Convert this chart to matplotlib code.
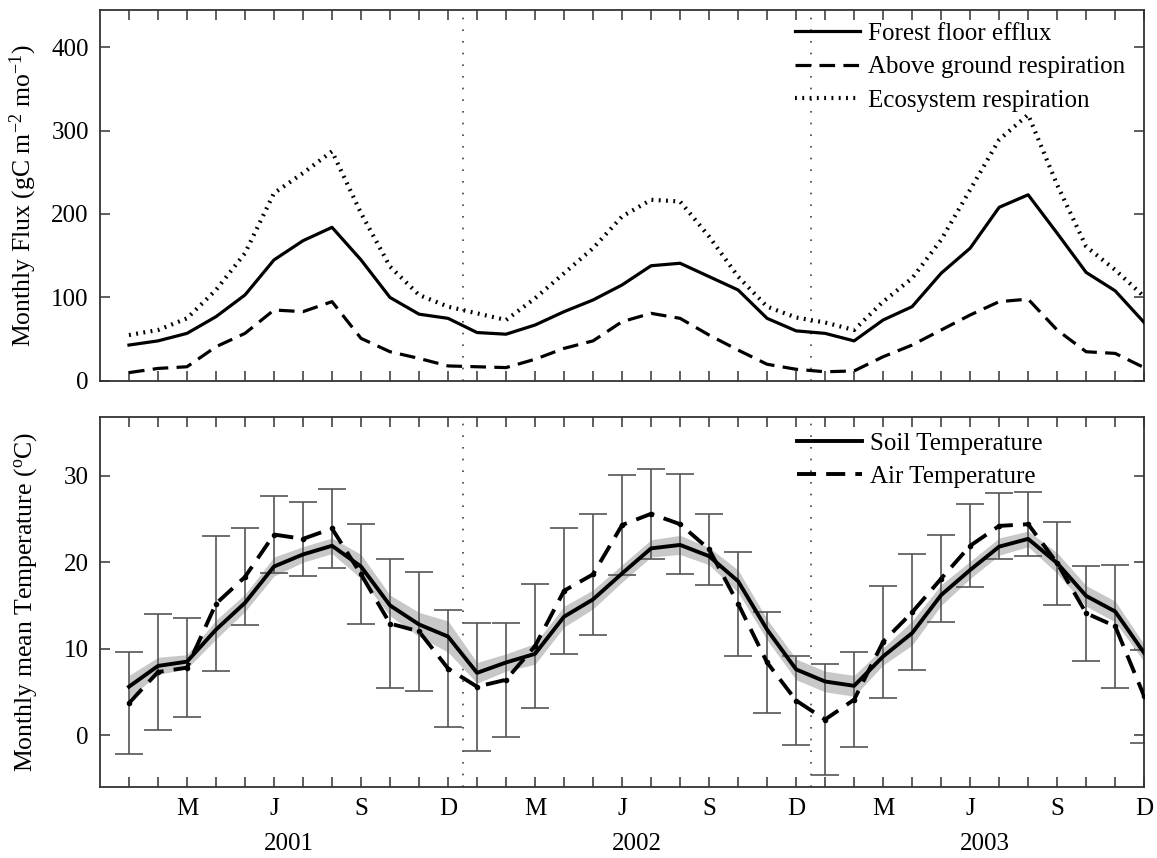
import numpy as np
import matplotlib
matplotlib.use("Agg")
import matplotlib.pyplot as plt
from matplotlib.transforms import blended_transform_factory

plt.rcParams['font.family'] = ['Liberation Serif', 'DejaVu Serif']
plt.rcParams['mathtext.fontset'] = 'custom'
plt.rcParams['mathtext.rm'] = 'Liberation Serif'
plt.rcParams['mathtext.it'] = 'Liberation Serif:italic'
plt.rcParams['axes.unicode_minus'] = False

# ---------------- data (Jan 2001 .. Dec 2003, monthly) ----------------
month_index = np.arange(36)

forest_floor = [43, 48, 57, 77, 103, 145, 168, 184, 145, 100, 80, 75,
                58, 56, 67, 83, 97, 115, 138, 141, 125, 109, 75, 60,
                57, 48, 73, 89, 129, 159, 208, 223, 177, 130, 108, 70]
above_ground = [10, 15, 17, 41, 57, 85, 83, 95, 51, 35, 27, 18,
                17, 16, 26, 39, 48, 71, 81, 75, 55, 37, 20, 14,
                11, 12, 29, 43, 61, 79, 95, 98, 61, 35, 33, 16]
ecosystem = [55, 61, 75, 109, 153, 225, 249, 275, 201, 137, 103, 89,
             81, 73, 99, 129, 159, 197, 217, 215, 173, 125, 89, 76,
             70, 61, 95, 123, 169, 229, 289, 319, 235, 161, 133, 101]

soil_temp = [5.6, 8.0, 8.5, 12.2, 15.3, 19.5, 20.9, 21.9, 19.5, 15.0, 12.8, 11.4,
             7.2, 8.4, 9.4, 13.7, 15.7, 18.7, 21.6, 22.0, 20.7, 17.8, 12.2, 7.6,
             6.2, 5.7, 9.1, 11.8, 16.2, 19.1, 21.8, 22.7, 19.9, 16.1, 14.3, 9.5]
soil_sd = [1.3, 1.0, 0.8, 1.1, 1.0, 1.1, 0.9, 0.9, 1.4, 1.2, 1.4, 1.8,
           1.2, 1.0, 1.2, 1.2, 1.1, 1.0, 1.0, 1.1, 1.0, 1.3, 1.2, 1.2,
           1.2, 1.2, 1.0, 1.4, 1.2, 1.0, 1.0, 0.9, 1.2, 1.2, 1.2, 1.0]
air_temp = [3.7, 7.3, 7.8, 15.2, 18.3, 23.2, 22.7, 23.9, 18.6, 12.9, 12.0, 7.7,
            5.6, 6.4, 10.3, 16.7, 18.6, 24.3, 25.6, 24.4, 21.5, 15.2, 8.4, 4.0,
            1.8, 4.1, 10.8, 14.2, 18.1, 21.9, 24.2, 24.4, 19.9, 14.1, 12.6, 4.5]
air_sd = [5.9, 6.7, 5.7, 7.8, 5.6, 4.5, 4.3, 4.6, 5.8, 7.5, 6.9, 6.8,
          7.4, 6.6, 7.2, 7.3, 7.0, 5.8, 5.2, 5.8, 4.1, 6.0, 5.8, 5.2,
          6.4, 5.5, 6.5, 6.7, 5.0, 4.8, 3.8, 3.7, 4.8, 5.5, 7.1, 5.4]

month_letters = ['', '', 'M', '', '', 'J', '', '', 'S', '', '', 'D']
year_labels = ['2001', '2002', '2003']
year_boundaries = [11.5, 23.5]

flux_labels = ['Forest floor efflux', 'Above ground respiration', 'Ecosystem respiration']
temp_labels = ['Soil Temperature', 'Air Temperature']

# ---------------- figure ----------------
fig = plt.figure(figsize=(11.57, 8.58), dpi=100)
ax1 = fig.add_axes([0.0864, 0.556, 0.9025, 0.432])
ax2 = fig.add_axes([0.0864, 0.0828, 0.9025, 0.4312])

spine_col = '#333333'
FS = 18

def style(ax):
    for s in ax.spines.values():
        s.set_color(spine_col)
        s.set_linewidth(1.3)
    ax.set_xlim(-1, 35)
    ax.set_xticks(month_index)
    ax.tick_params(axis='both', direction='in', length=7, width=1.1, color=spine_col,
                   top=True, right=True, labelsize=FS, pad=8)
    for xb in year_boundaries:
        ax.axvline(xb, color='#444444', lw=1.2, linestyle=(0, (1, 6)), zorder=1)

dash = (0, (4.9, 2.6))
dots = (0, (0.45, 1.3))

# ---- top panel ----
style(ax1)
ax1.plot(month_index, forest_floor, color='black', lw=2.3, label=flux_labels[0], zorder=3)
ax1.plot(month_index, above_ground, color='black', lw=2.3, linestyle=dash, label=flux_labels[1], zorder=3)
ax1.plot(month_index, ecosystem, color='black', lw=3.0, linestyle=dots, label=flux_labels[2], zorder=3)
ax1.set_ylim(0, 444)
ax1.set_yticks([0, 100, 200, 300, 400])
ax1.tick_params(axis='x', labelbottom=False)
ax1.set_ylabel('Monthly Flux (gC m$^{\\mathregular{-2}}$ mo$^{\\mathregular{-1}}$)', fontsize=18.5)
ax1.yaxis.set_label_coords(-0.058, 0.5)
leg1 = ax1.legend(loc='upper left', bbox_to_anchor=(0.666, 0.967), frameon=False, fontsize=FS,
                  handlelength=2.6, handletextpad=0.3, labelspacing=0.43, borderpad=0, borderaxespad=0)

# ---- bottom panel ----
style(ax2)
lo = np.array(soil_temp) - np.array(soil_sd)
hi = np.array(soil_temp) + np.array(soil_sd)
ax2.fill_between(month_index, lo, hi, color='#c8c8c8', lw=0, zorder=2)
ax2.errorbar(month_index, air_temp, yerr=air_sd, fmt='none', ecolor='#555555',
             elinewidth=1.2, capsize=10, capthick=1.2, zorder=2.5)
ax2.plot(month_index, soil_temp, color='black', lw=2.8, label=temp_labels[0], zorder=3)
ax2.plot(month_index, air_temp, color='black', lw=2.8, linestyle=dash, marker='o',
         markersize=3, label=temp_labels[1], zorder=3.5)
ax2.set_ylim(-6, 36.8)
ax2.set_yticks([0, 10, 20, 30])
ax2.set_xticklabels(month_letters * 3)
ax2.set_ylabel('Monthly mean Temperature ($^{\\mathregular{o}}$C)', fontsize=18.5)
ax2.yaxis.set_label_coords(-0.058, 0.5)
leg2 = ax2.legend(loc='upper left', bbox_to_anchor=(0.668, 0.959), frameon=False, fontsize=FS,
                  handlelength=2.6, handletextpad=0.3, labelspacing=0.43, borderpad=0, borderaxespad=0)
for h in leg2.legend_handles:
    h.set_marker('')

trans = blended_transform_factory(ax2.transData, ax2.transAxes)
for i, yl in enumerate(year_labels):
    ax2.text(5.5 + 12 * i, -0.153, yl, transform=trans, ha='center', va='center', fontsize=FS)

fig.savefig('out.png', dpi=100)
